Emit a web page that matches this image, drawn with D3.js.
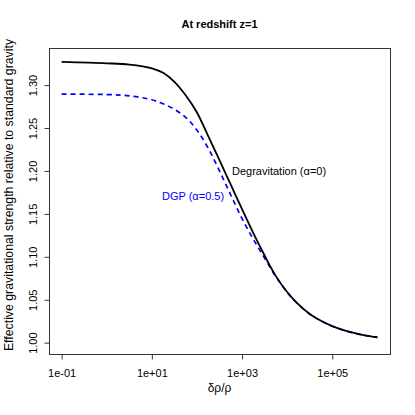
<!DOCTYPE html>
<html><head><meta charset="utf-8">
<script src="https://cdn.jsdelivr.net/npm/d3@7"></script>
<style>body{margin:0;background:#fff}svg{display:block;font-family:"Liberation Sans",Arial,sans-serif}</style>
</head><body>
<script>
// log10(δρ/ρ) sample points
const logX = [-1, 0, 0.5, 1.0, 1.25, 1.5, 1.75, 2.0, 2.25, 2.5, 2.75, 3.0, 3.25, 3.5, 3.75, 4.0, 4.25, 4.5, 4.75, 5.0, 5.25, 5.5, 5.75, 6.0];
const degravitation = [1.327, 1.3254, 1.3239, 1.3196, 1.3143, 1.3038, 1.2881, 1.2681, 1.2405, 1.2125, 1.1840, 1.1555, 1.1275, 1.1015, 1.0775, 1.059, 1.0445, 1.0335, 1.0255, 1.0193, 1.0146, 1.011, 1.0083, 1.0063];
const dgp = [1.2895, 1.289, 1.2875, 1.2829, 1.2782, 1.2718, 1.2625, 1.2475, 1.2265, 1.200, 1.172, 1.1445, 1.1205, 1.0985, 1.0768, 1.0586, 1.0443, 1.0334, 1.0254, 1.0192, 1.0145, 1.0109, 1.0082, 1.0062];
const xTicks = [0.1, 10, 1000, 100000];
const xTickLabels = ["1e-01", "1e+01", "1e+03", "1e+05"];
const yTicks = [1.00, 1.05, 1.10, 1.15, 1.20, 1.25, 1.30];
const yTickLabels = ["1.00", "1.05", "1.10", "1.15", "1.20", "1.25", "1.30"];
const yDataRange = [1.0, 1.33];
const xDataRange = [0.1, 1e6];

const W = 415, H = 415;
const box = {l: 49, r: 390, t: 48, b: 354};
const svg = d3.select("body").append("svg").attr("width", W).attr("height", H);

const lx0 = Math.log10(xDataRange[0]), lx1 = Math.log10(xDataRange[1]);
const px = (lx1 - lx0) * 0.04;
const x = d3.scaleLog().domain([Math.pow(10, lx0 - px), Math.pow(10, lx1 + px)]).range([box.l, box.r]);
const py = (yDataRange[1] - yDataRange[0]) * 0.04;
const y = d3.scaleLinear().domain([yDataRange[0] - py, yDataRange[1] + py]).range([box.b, box.t]);

// box
svg.append("rect").attr("x", box.l + 0.5).attr("y", box.t + 0.5)
  .attr("width", box.r - box.l).attr("height", box.b - box.t)
  .attr("fill", "none").attr("stroke", "#333").attr("stroke-width", 1);

// x axis
const xa = svg.append("g").attr("transform", `translate(0,${box.b + 0.5})`)
  .call(d3.axisBottom(x).tickValues(xTicks).tickFormat((d, i) => xTickLabels[i]).tickSize(5).tickSizeOuter(0));
xa.select(".domain").remove();
xa.selectAll("line").attr("stroke", "#333");
xa.selectAll("text").attr("font-size", 11).attr("dy", 0).attr("y", 22).attr("fill", "#000")
  .attr("font-family", '"Liberation Sans",Arial,sans-serif');

// y axis
const ya = svg.append("g").attr("transform", `translate(${box.l + 0.5},0)`)
  .call(d3.axisLeft(y).tickValues(yTicks).tickFormat((d, i) => yTickLabels[i]).tickSize(5).tickSizeOuter(0));
ya.select(".domain").remove();
ya.selectAll("line").attr("stroke", "#333");
ya.selectAll("text").attr("font-size", 11).attr("fill", "#000")
  .attr("font-family", '"Liberation Sans",Arial,sans-serif')
  .attr("x", null).attr("dy", null)
  .attr("transform", "translate(-13,0) rotate(-90)")
  .attr("text-anchor", "middle").attr("dy", "0");

// lines
const line = d3.line().x((d, i) => x(Math.pow(10, logX[i]))).y(d => y(d)).curve(d3.curveCatmullRom.alpha(0.5));
svg.append("path").datum(dgp).attr("d", line).attr("fill", "none")
  .attr("stroke", "#0000ff").attr("stroke-width", 1.7).attr("stroke-dasharray", "5,4");
svg.append("path").datum(degravitation).attr("d", line).attr("fill", "none")
  .attr("stroke", "#000").attr("stroke-width", 1.8);

// labels
svg.append("text").attr("x", 232).attr("y", 175).attr("font-size", 11).attr("fill", "#000")
  .text("Degravitation (α=0)");
svg.append("text").attr("x", 162).attr("y", 200).attr("font-size", 11).attr("fill", "#0000ff")
  .text("DGP (α=0.5)");

// title
svg.append("text").attr("x", (box.l + box.r) / 2).attr("y", 28).attr("text-anchor", "middle")
  .attr("font-size", 11).attr("font-weight", "bold").text("At redshift z=1");

// axis titles
svg.append("text").attr("x", (box.l + box.r) / 2).attr("y", 392).attr("text-anchor", "middle")
  .attr("font-size", 12).text("δρ/ρ");
svg.append("text").attr("transform", `translate(13,195) rotate(-90)`)
  .attr("text-anchor", "middle").attr("font-size", 12.3)
  .text("Effective gravitational strength relative to standard gravity");
</script>
</body></html>
